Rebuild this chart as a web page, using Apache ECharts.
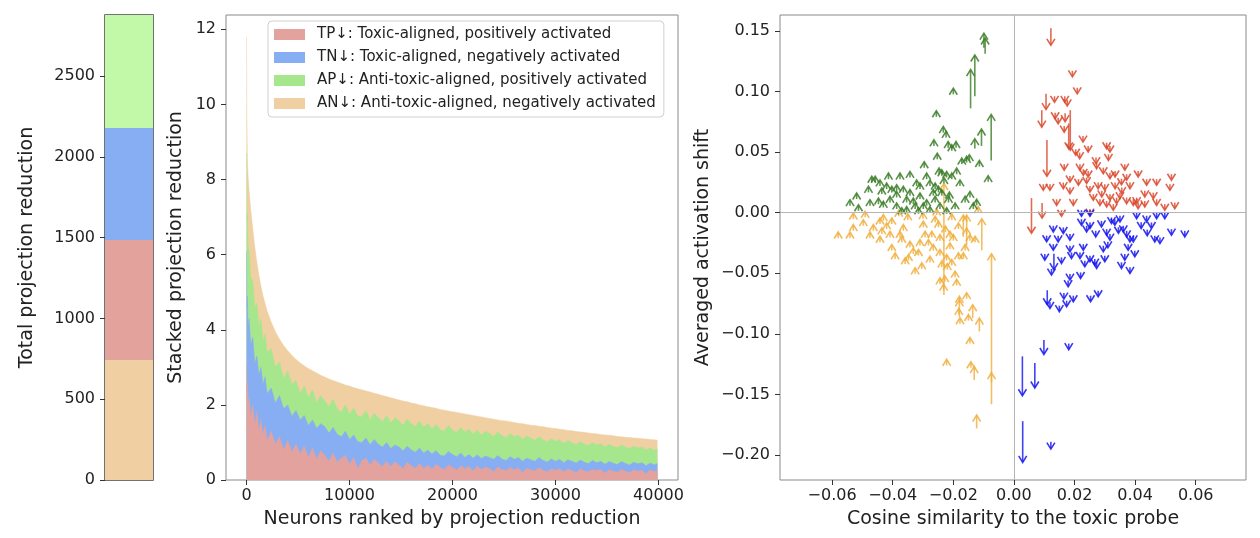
<!DOCTYPE html>
<html>
<head>
<meta charset="utf-8">
<script src="https://cdn.jsdelivr.net/npm/echarts@6.0.0/dist/echarts.min.js"></script>
<style>
html, body { margin: 0; padding: 0; background: #fff; }
#main { width: 1260px; height: 538px; }
</style>
</head>
<body>
<div id="main"></div>
<script>
// ---- left panel: total projection reduction per group ----
var barGroups = ['AN↓', 'TP↓', 'TN↓', 'AP↓'];
var barValues = [743, 743, 693, 700];
var totalTicks = [0, 500, 1000, 1500, 2000, 2500];

// ---- middle panel: stacked projection reduction, cumulative tops ----
var ranks = [0,30,80,150,250,400,600,800,1000,1200,1400,1600,1800,2000,
  2400,2800,3200,3600,4000,4400,4800,5200,5600,6000,
  6400,6800,7200,7600,8000,8400,8800,9200,9600,10000,
  10400,10800,11200,11600,12000,12400,12800,13200,13600,14000,
  14400,14800,15200,15600,16000,16400,16800,17200,17600,18000,
  18400,18800,19200,19600,20000,20400,20800,21200,21600,22000,
  22400,22800,23200,23600,24000,24400,24800,25200,25600,26000,
  26400,26800,27200,27600,28000,28400,28800,29200,29600,30000,
  30400,30800,31200,31600,32000,32400,32800,33200,33600,34000,
  34400,34800,35200,35600,36000,36400,36800,37200,37600,38000,
  38400,38800,39200,39600,39900];
var allTop = [11.8,9.7,8.6,8.1,7.7,7.2,6.7,6.2,5.8,5.45,5.15,4.9,4.7,4.5,
  4.2,3.95,3.75,3.58,3.44,3.32,3.21,3.12,3.04,2.97,
  2.91,2.85,2.79,2.74,2.69,2.65,2.61,2.57,2.53,2.5,
  2.46,2.43,2.4,2.37,2.34,2.31,2.28,2.25,2.22,2.19,
  2.16,2.13,2.1,2.08,2.05,2.03,2.0,1.98,1.95,1.93,
  1.91,1.88,1.86,1.84,1.82,1.8,1.78,1.76,1.74,1.72,
  1.7,1.68,1.66,1.64,1.62,1.6,1.58,1.57,1.55,1.53,
  1.51,1.5,1.48,1.46,1.45,1.43,1.42,1.4,1.38,1.37,
  1.35,1.34,1.32,1.31,1.29,1.28,1.27,1.25,1.24,1.23,
  1.21,1.2,1.19,1.18,1.16,1.15,1.14,1.13,1.12,1.11,
  1.1,1.09,1.08,1.07,1.06];
var apTop = [8.7,6.9,7.1,6.2,6.1,5.4,5.3,4.6,4.7,4.1,4.3,3.7,3.9,3.4,
  3.5,3.0,3.15,2.7,2.9,2.55,2.65,2.3,2.5,2.2,
  2.4,2.05,2.25,2.1,1.95,2.15,1.9,1.8,2.0,1.75,
  1.92,1.7,1.68,1.85,1.6,1.78,1.66,1.55,1.72,1.52,
  1.66,1.58,1.45,1.62,1.5,1.42,1.57,1.4,1.5,1.36,
  1.48,1.34,1.3,1.45,1.33,1.26,1.4,1.28,1.35,1.22,
  1.33,1.2,1.3,1.24,1.16,1.28,1.18,1.12,1.24,1.15,
  1.2,1.08,1.17,1.12,1.05,1.15,1.07,1.02,1.1,1.03,
  1.07,0.97,1.05,1.0,0.94,1.02,0.96,0.92,1.0,0.93,
  0.97,0.88,0.95,0.9,0.86,0.93,0.87,0.84,0.9,0.85,
  0.88,0.8,0.86,0.79,0.83];
var tnTop = [6.1,4.6,4.9,4.1,4.3,3.6,3.8,3.1,3.3,2.8,3.0,2.55,2.75,2.3,
  2.45,2.05,2.25,1.9,2.0,1.7,1.85,1.6,1.72,1.45,
  1.6,1.38,1.5,1.42,1.25,1.4,1.22,1.15,1.3,1.08,
  1.2,1.02,1.0,1.12,0.94,1.08,0.95,0.88,1.0,0.84,
  0.93,0.88,0.78,0.9,0.8,0.74,0.85,0.72,0.8,0.69,
  0.78,0.66,0.64,0.76,0.68,0.62,0.72,0.6,0.68,0.58,
  0.67,0.57,0.64,0.6,0.55,0.65,0.56,0.52,0.62,0.55,
  0.6,0.5,0.58,0.54,0.5,0.6,0.52,0.48,0.56,0.5,
  0.55,0.46,0.54,0.5,0.45,0.53,0.47,0.44,0.52,0.46,
  0.5,0.42,0.49,0.45,0.41,0.49,0.44,0.4,0.47,0.43,
  0.46,0.38,0.45,0.4,0.44];
var tpTop = [3.1,2.3,2.6,2.0,2.2,1.7,2.0,1.5,1.8,1.3,1.6,1.2,1.45,1.05,
  1.3,0.95,1.15,0.8,1.05,0.75,0.95,0.7,0.9,0.6,
  0.85,0.55,0.78,0.65,0.5,0.72,0.48,0.58,0.66,0.42,
  0.6,0.3,0.52,0.58,0.4,0.55,0.45,0.36,0.5,0.35,
  0.48,0.4,0.3,0.47,0.38,0.31,0.44,0.3,0.4,0.28,
  0.42,0.33,0.27,0.4,0.34,0.26,0.38,0.3,0.36,0.24,
  0.37,0.28,0.34,0.3,0.22,0.35,0.28,0.25,0.33,0.27,
  0.32,0.2,0.31,0.27,0.24,0.33,0.26,0.21,0.3,0.26,
  0.3,0.22,0.29,0.25,0.19,0.3,0.24,0.22,0.28,0.25,
  0.28,0.18,0.27,0.24,0.2,0.28,0.23,0.19,0.27,0.23,
  0.26,0.16,0.27,0.22,0.25];
var rankTicks = [0, 10000, 20000, 30000, 40000];
var stackTicks = [0, 2, 4, 6, 8, 10, 12];

// ---- right panel: arrows [cosine, activation shift, arrow length] ----
var apArrows = [
  [-0.0099,0.136,0.012],[-0.0095,0.131,0.013],[-0.0129,0.096,0.034],[-0.0143,0.086,0.032],
  [-0.0075,0.043,0.038],[-0.0107,0.055,0.014],[-0.0129,0.053,0.008],
  [-0.0200,0.0976,0.005],[-0.0256,0.079,0.005],[-0.0233,0.066,0.005],[-0.0224,0.062,0.005],
  [-0.0264,0.055,0.005],[-0.0217,0.0536,0.005],[-0.0191,0.0536,0.005],[-0.0205,0.051,0.005],
  [-0.0253,0.044,0.005],[-0.0296,0.037,0.005],[-0.0172,0.040,0.005],[-0.0156,0.0414,0.005],
  [-0.0147,0.0428,0.005],[-0.0114,0.038,0.005],[-0.0247,0.0317,0.005],[-0.0238,0.0304,0.005],
  [-0.0222,0.029,0.005],[-0.0205,0.0276,0.005],[-0.0189,0.0317,0.005],[-0.0343,0.029,0.005],
  [-0.0376,0.0276,0.005],[-0.0414,0.0276,0.005],[-0.0469,0.025,0.005],[-0.0458,0.025,0.005],
  [-0.0085,0.0255,0.005],[-0.0442,0.022,0.005],[-0.0420,0.0194,0.005],[-0.0403,0.0167,0.005],
  [-0.0387,0.018,0.005],[-0.0365,0.0167,0.005],[-0.0480,0.0167,0.005],[-0.0436,0.0153,0.005],
  [-0.0321,0.022,0.005],[-0.0310,0.0194,0.005],[-0.0288,0.0276,0.005],[-0.0277,0.022,0.005],
  [-0.0260,0.0194,0.005],[-0.0249,0.0167,0.005],[-0.0238,0.014,0.005],[-0.0216,0.0084,0.005],
  [-0.0178,0.022,0.005],[-0.0519,0.0112,0.005],[-0.0541,0.0057,0.005],[-0.0513,0.0015,0.005],
  [-0.0475,0.0057,0.005],[-0.0447,0.007,0.005],[-0.0431,0.0043,0.005],[-0.0409,0.0084,0.005],
  [-0.0387,0.003,0.005],[-0.0370,-0.001,0.005],[-0.0354,0.000,0.005],[-0.0332,0.007,0.005],
  [-0.0326,0.003,0.005],[-0.0315,-0.001,0.005],[-0.0299,0.003,0.005],[-0.0288,0.0057,0.005],
  [-0.0277,0.000,0.005],[-0.0260,0.0084,0.005],[-0.0244,0.003,0.005],[-0.0222,-0.001,0.005],
  [-0.0194,0.003,0.005],[-0.0161,0.0084,0.005],[-0.0145,0.0125,0.005],[-0.0134,0.003,0.005],
  [-0.0123,0.006,0.005],[-0.0343,0.014,0.005],[-0.0387,0.0125,0.005],[-0.0354,0.0084,0.005],
  [-0.0266,0.014,0.005],[-0.0310,0.0112,0.005],[-0.0213,0.012,0.005],[-0.0231,0.024,0.005]
];
var anArrows = [
  [-0.0074,-0.158,0.124],[-0.0074,-0.140,0.008],[-0.0106,-0.031,0.026],[-0.0231,-0.068,0.092],
  [-0.0156,-0.027,0.025],[-0.0167,-0.020,0.018],[-0.0180,-0.086,0.014],[-0.0136,-0.087,0.011],
  [-0.0114,-0.098,0.011],[-0.0131,-0.138,0.011],[-0.0123,-0.178,0.011],
  [-0.0580,-0.021,0.005],[-0.0541,-0.021,0.005],[-0.0530,-0.0149,0.005],[-0.0530,-0.0053,0.005],
  [-0.0497,-0.0108,0.005],[-0.0491,-0.0039,0.005],[-0.0475,-0.021,0.005],[-0.0464,-0.0149,0.005],
  [-0.0442,-0.0094,0.005],[-0.0431,-0.0066,0.005],[-0.0436,-0.0176,0.005],[-0.0442,-0.0245,0.005],
  [-0.0420,-0.0135,0.005],[-0.0409,-0.0204,0.005],[-0.0403,-0.0094,0.005],[-0.0403,-0.0313,0.005],
  [-0.0392,-0.0382,0.005],[-0.0376,-0.0204,0.005],[-0.0370,-0.0245,0.005],[-0.0365,-0.0149,0.005],
  [-0.0348,-0.0395,0.005],[-0.0359,-0.0423,0.005],[-0.0343,-0.0286,0.005],[-0.0332,-0.0341,0.005],
  [-0.0326,-0.0505,0.005],[-0.0315,-0.0354,0.005],[-0.0310,-0.0272,0.005],[-0.0304,-0.0464,0.005],
  [-0.0299,-0.0121,0.005],[-0.0293,-0.0204,0.005],[-0.0282,-0.0272,0.005],[-0.0277,-0.0409,0.005],
  [-0.0271,-0.0204,0.005],[-0.0266,-0.0313,0.005],[-0.0260,-0.008,0.005],[-0.0249,-0.0121,0.005],
  [-0.0244,-0.0231,0.005],[-0.0244,-0.0354,0.005],[-0.0238,-0.045,0.005],[-0.0244,-0.0588,0.005],
  [-0.0222,-0.0395,0.005],[-0.0211,-0.0204,0.005],[-0.0211,-0.030,0.005],[-0.0205,-0.0436,0.005],
  [-0.0200,-0.0231,0.005],[-0.0194,-0.0533,0.005],[-0.0189,-0.060,0.005],[-0.0183,-0.0382,0.005],
  [-0.0183,-0.0135,0.005],[-0.0167,-0.0382,0.005],[-0.0161,-0.0313,0.005],[-0.0156,-0.0176,0.005],
  [-0.0145,-0.0231,0.005],[-0.0128,-0.0245,0.005],[-0.0156,-0.071,0.005],[-0.0178,-0.0917,0.005],
  [-0.0150,-0.089,0.005],[-0.0145,-0.108,0.005],[-0.0222,-0.126,0.005],[-0.0142,-0.128,0.005],
  [-0.0118,0.000,0.005],[-0.0228,-0.057,0.005],[-0.0232,-0.064,0.005],[-0.0220,-0.047,0.005],
  [-0.0180,-0.074,0.005],[-0.0182,-0.084,0.005],[-0.0300,-0.005,0.005],[-0.0255,-0.002,0.005],
  [-0.0350,-0.006,0.005],[-0.0380,-0.003,0.005],[-0.0205,-0.006,0.005],[-0.0226,-0.016,0.005]
];
var tpArrows = [
  [0.0122,0.152,-0.014],[0.0106,0.098,-0.013],[0.0092,0.0845,-0.014],[0.0186,0.0845,-0.033],
  [0.0181,0.0736,-0.021],[0.0169,0.082,-0.007],[0.0109,0.060,-0.030],[0.0058,0.012,-0.029],
  [0.0093,0.008,-0.0125],
  [0.0193,0.117,-0.005],[0.0209,0.103,-0.005],[0.0134,0.096,-0.005],[0.0168,0.096,-0.005],
  [0.0176,0.093,-0.005],[0.0136,0.0824,-0.005],[0.0146,0.0783,-0.005],[0.0166,0.0714,-0.005],
  [0.0228,0.0632,-0.005],[0.0245,0.055,-0.005],[0.0217,0.0495,-0.005],[0.0204,0.0523,-0.005],
  [0.0306,0.0577,-0.005],[0.0317,0.055,-0.005],[0.0312,0.0481,-0.005],[0.0271,0.0454,-0.005],
  [0.0273,0.0413,-0.005],[0.0218,0.040,-0.005],[0.0229,0.0358,-0.005],[0.0245,0.0344,-0.005],
  [0.0166,0.040,-0.005],[0.0295,0.0371,-0.005],[0.0317,0.033,-0.005],[0.0334,0.0344,-0.005],
  [0.0366,0.040,-0.005],[0.0372,0.0317,-0.005],[0.0410,0.0344,-0.005],[0.0185,0.0303,-0.005],
  [0.0213,0.0276,-0.005],[0.0240,0.029,-0.005],[0.0097,0.0234,-0.005],[0.0119,0.0234,-0.005],
  [0.0163,0.0248,-0.005],[0.0185,0.0207,-0.005],[0.0251,0.022,-0.005],[0.0278,0.0248,-0.005],
  [0.0300,0.0234,-0.005],[0.0334,0.0248,-0.005],[0.0356,0.0207,-0.005],[0.0383,0.0248,-0.005],
  [0.0438,0.0276,-0.005],[0.0471,0.0276,-0.005],[0.0520,0.0317,-0.005],[0.0515,0.0234,-0.005],
  [0.0141,0.011,-0.005],[0.0157,0.002,-0.005],[0.0196,0.011,-0.005],[0.0262,0.0152,-0.005],
  [0.0284,0.011,-0.005],[0.0306,0.0097,-0.005],[0.0328,0.007,-0.005],[0.0350,0.0165,-0.005],
  [0.0372,0.0124,-0.005],[0.0394,0.011,-0.005],[0.0410,0.0083,-0.005],[0.0432,0.018,-0.005],
  [0.0460,0.0165,-0.005],[0.0471,0.011,-0.005],[0.0498,0.007,-0.005],[0.0531,0.0083,-0.005],
  [0.0432,0.0097,-0.005],[0.0405,0.0124,-0.005],[0.0251,0.003,-0.005],[0.0317,0.0152,-0.005],
  [0.0339,0.0124,-0.005],[0.0290,0.018,-0.005],[0.0355,0.028,-0.005]
];
var tnArrows = [
  [0.0028,-0.1185,-0.0325],[0.0029,-0.172,-0.034],[0.0069,-0.124,-0.0206],[0.0099,-0.105,-0.012],
  [0.0122,-0.189,-0.006],[0.0110,-0.064,-0.012],[0.0132,-0.034,-0.013],
  [0.0181,-0.108,-0.005],[0.0108,-0.019,-0.005],[0.0130,-0.0109,-0.005],[0.0163,-0.0122,-0.005],
  [0.0185,-0.0177,-0.005],[0.0146,-0.0191,-0.005],[0.0130,-0.026,-0.005],[0.0157,-0.0369,-0.005],
  [0.0185,-0.0273,-0.005],[0.0190,-0.0328,-0.005],[0.0102,-0.0342,-0.005],[0.0124,-0.0465,-0.005],
  [0.0185,-0.0506,-0.005],[0.0179,-0.056,-0.005],[0.0220,-0.0493,-0.005],[0.0119,-0.074,-0.005],
  [0.0150,-0.0767,-0.005],[0.0165,-0.0663,-0.005],[0.0174,-0.0726,-0.005],[0.0196,-0.0685,-0.005],
  [0.0253,-0.0685,-0.005],[0.0278,-0.0644,-0.005],[0.0223,-0.0054,-0.005],[0.0229,-0.026,-0.005],
  [0.0218,-0.0328,-0.005],[0.0240,-0.0109,-0.005],[0.0251,-0.0081,-0.005],[0.0234,-0.0396,-0.005],
  [0.0251,-0.0355,-0.005],[0.0267,-0.0383,-0.005],[0.0273,-0.041,-0.005],[0.0295,-0.0273,-0.005],
  [0.0300,-0.0355,-0.005],[0.0306,-0.0136,-0.005],[0.0317,-0.0177,-0.005],[0.0289,-0.0068,-0.005],
  [0.0322,-0.004,-0.005],[0.0333,-0.0054,-0.005],[0.0350,-0.0026,-0.005],[0.0361,-0.0109,-0.005],
  [0.0372,-0.015,-0.005],[0.0383,-0.0191,-0.005],[0.0394,-0.0191,-0.005],[0.0377,-0.026,-0.005],
  [0.0399,-0.0314,-0.005],[0.0355,-0.041,-0.005],[0.0366,-0.0342,-0.005],[0.0383,-0.0451,-0.005],
  [0.0405,0.000,-0.005],[0.0438,-0.0026,-0.005],[0.0454,-0.0081,-0.005],[0.0465,-0.0191,-0.005],
  [0.0482,-0.0205,-0.005],[0.0498,0.000,-0.005],[0.0520,-0.0136,-0.005],[0.0471,0.000,-0.005],
  [0.0223,0.002,-0.005],[0.0251,0.002,-0.005],[0.0564,-0.015,-0.005],[0.0345,-0.012,-0.005],
  [0.0270,-0.015,-0.005],[0.0310,-0.024,-0.005],[0.0420,-0.008,-0.005],[0.0440,-0.014,-0.005]
];
var cosTicks = [-0.06, -0.04, -0.02, 0, 0.02, 0.04, 0.06];
var shiftTicks = [-0.2, -0.15, -0.1, -0.05, 0, 0.05, 0.1, 0.15];

var FONT = 'DejaVu Sans';
var TXT = '#222';
var labelStyle = { fontFamily: FONT, fontSize: 16, color: TXT };
var nameStyle = { fontFamily: FONT, fontSize: 19, color: TXT };

function minus(v, digits) {
  var s = Math.abs(v).toFixed(digits);
  return (v < -1e-9 ? '\u2212' : '') + s;
}

function plain(v) { return String(v); }

function pairs(ys) {
  return ranks.map(function (r, i) { return [r, ys[i]]; });
}

// quiver-like arrow: shaft from tail to tip plus an open chevron head
function arrowRenderer(color) {
  return function (params, api) {
    var x = api.value(0), y = api.value(1), dy = api.value(2);
    var p0 = api.coord([x, y]);
    var p1 = api.coord([x, y + dy]);
    var s = dy >= 0 ? 1 : -1;
    var L = 6.5, W = 4;
    var tx = p1[0], ty = p1[1];
    return {
      type: 'group',
      children: [
        { type: 'line', shape: { x1: p0[0], y1: p0[1], x2: tx, y2: ty + s * 1 },
          style: { stroke: color, lineWidth: 1.6, opacity: 0.8 } },
        { type: 'polyline', shape: { points: [[tx - W, ty + s * L], [tx, ty], [tx + W, ty + s * L]] },
          style: { stroke: color, lineWidth: 1.6, fill: null, opacity: 0.85, lineJoin: 'miter' } }
      ]
    };
  };
}

var chart = echarts.init(document.getElementById('main'));

var colLeft = ['#f0cfa3', '#e4a29d', '#87aef3', '#c1f9a9'];
var colMid = { TP: '#e3a29d', TN: '#87aef3', AP: '#a6e68d', AN: '#f0cfa3' };
var legendNames = [
  'TP\u2193: Toxic-aligned, positively activated',
  'TN\u2193: Toxic-aligned, negatively activated',
  'AP\u2193: Anti-toxic-aligned, positively activated',
  'AN\u2193: Anti-toxic-aligned, negatively activated'
];

function areaSeries(name, color, ys) {
  return {
    name: name, type: 'line', xAxisIndex: 1, yAxisIndex: 1,
    data: pairs(ys), showSymbol: false, silent: true,
    itemStyle: { color: color },
    lineStyle: { width: 0.5, color: color },
    areaStyle: { color: color, opacity: 1 }
  };
}

function valueAxisBase() {
  return {
    type: 'value',
    axisLine: { show: false, onZero: false },
    splitLine: { show: false }
  };
}

var option = {
  animation: false,
  backgroundColor: '#fff',
  grid: [
    { left: 105, top: 15, width: 48, height: 465, show: true, borderColor: '#444', borderWidth: 1.5, backgroundColor: 'transparent' },
    { left: 226, top: 15, width: 452, height: 465, show: true, borderColor: '#8a8a8a', borderWidth: 1, backgroundColor: 'transparent' },
    { left: 780, top: 15, width: 466, height: 465, show: true, borderColor: '#8a8a8a', borderWidth: 1, backgroundColor: 'transparent' }
  ],
  legend: {
    data: legendNames, orient: 'vertical', left: 268, top: 21,
    icon: 'rect', itemWidth: 31, itemHeight: 11, itemGap: 6,
    padding: [5, 8, 5, 6],
    backgroundColor: 'rgba(255,255,255,0.8)', borderColor: '#d0d0d0', borderWidth: 1, borderRadius: 4,
    selectedMode: false,
    textStyle: { fontFamily: FONT, fontSize: 15, color: TXT, lineHeight: 17, padding: [0, 0, 0, 7] }
  },
  xAxis: [
    { gridIndex: 0, type: 'category', data: ['total'], axisLine: { show: false, onZero: false }, axisTick: { show: false }, axisLabel: { show: false } },
    Object.assign(valueAxisBase(), { gridIndex: 1, min: -1995, max: 41895,
      name: 'Neurons ranked by projection reduction', nameLocation: 'middle', nameGap: 30, nameTextStyle: nameStyle,
      axisTick: { show: true, length: 5, lineStyle: { color: '#333' }, customValues: rankTicks },
      axisLabel: Object.assign({ margin: 8, customValues: rankTicks, formatter: plain }, labelStyle) }),
    Object.assign(valueAxisBase(), { gridIndex: 2, min: -0.0772, max: 0.0766,
      name: 'Cosine similarity to the toxic probe', nameLocation: 'middle', nameGap: 30, nameTextStyle: nameStyle,
      axisTick: { show: true, length: 5, lineStyle: { color: '#333' }, customValues: cosTicks },
      axisLabel: Object.assign({ margin: 8, customValues: cosTicks, formatter: function (v) { return minus(v, 2); } }, labelStyle) })
  ],
  yAxis: [
    Object.assign(valueAxisBase(), { gridIndex: 0, min: 0, max: 2879,
      name: 'Total projection reduction', nameLocation: 'middle', nameGap: 68, nameRotate: 90, nameTextStyle: nameStyle,
      axisTick: { show: true, length: 5, lineStyle: { color: '#333' }, customValues: totalTicks },
      axisLabel: Object.assign({ margin: 10, customValues: totalTicks, formatter: plain }, labelStyle) }),
    Object.assign(valueAxisBase(), { gridIndex: 1, min: 0, max: 12.38,
      name: 'Stacked projection reduction', nameLocation: 'middle', nameGap: 40, nameRotate: 90, nameTextStyle: nameStyle,
      axisTick: { show: true, length: 5, lineStyle: { color: '#333' }, customValues: stackTicks },
      axisLabel: Object.assign({ margin: 10, customValues: stackTicks, formatter: plain }, labelStyle) }),
    Object.assign(valueAxisBase(), { gridIndex: 2, min: -0.2205, max: 0.163,
      name: 'Averaged activation shift', nameLocation: 'middle', nameGap: 67, nameRotate: 90, nameTextStyle: nameStyle,
      axisTick: { show: true, length: 5, lineStyle: { color: '#333' }, customValues: shiftTicks },
      axisLabel: Object.assign({ margin: 10, customValues: shiftTicks, formatter: function (v) { return minus(v, 2); } }, labelStyle) })
  ],
  series: [
    // left stacked bar
    { type: 'bar', name: barGroups[0], xAxisIndex: 0, yAxisIndex: 0, stack: 'tot', barWidth: '100%', data: [barValues[0]], itemStyle: { color: colLeft[0] }, silent: true },
    { type: 'bar', name: barGroups[1], xAxisIndex: 0, yAxisIndex: 0, stack: 'tot', barWidth: '100%', data: [barValues[1]], itemStyle: { color: colLeft[1] }, silent: true },
    { type: 'bar', name: barGroups[2], xAxisIndex: 0, yAxisIndex: 0, stack: 'tot', barWidth: '100%', data: [barValues[2]], itemStyle: { color: colLeft[2] }, silent: true },
    { type: 'bar', name: barGroups[3], xAxisIndex: 0, yAxisIndex: 0, stack: 'tot', barWidth: '100%', data: [barValues[3]], itemStyle: { color: colLeft[3] }, silent: true },
    // middle: cumulative tops drawn back to front
    areaSeries(legendNames[3], colMid.AN, allTop),
    areaSeries(legendNames[2], colMid.AP, apTop),
    areaSeries(legendNames[1], colMid.TN, tnTop),
    areaSeries(legendNames[0], colMid.TP, tpTop),
    // right: reference lines at zero
    { type: 'scatter', xAxisIndex: 2, yAxisIndex: 2, data: [], z: 1, silent: true,
      markLine: { silent: true, symbol: 'none', label: { show: false },
        lineStyle: { color: '#b5b5b5', width: 1, type: 'solid' },
        data: [{ xAxis: 0 }, { yAxis: 0 }] } },
    { type: 'custom', xAxisIndex: 2, yAxisIndex: 2, data: anArrows, renderItem: arrowRenderer('#f0ae3c'), z: 3, silent: true, clip: true },
    { type: 'custom', xAxisIndex: 2, yAxisIndex: 2, data: apArrows, renderItem: arrowRenderer('#3a7d26'), z: 3, silent: true, clip: true },
    { type: 'custom', xAxisIndex: 2, yAxisIndex: 2, data: tpArrows, renderItem: arrowRenderer('#d9472b'), z: 3, silent: true, clip: true },
    { type: 'custom', xAxisIndex: 2, yAxisIndex: 2, data: tnArrows, renderItem: arrowRenderer('#1414f0'), z: 3, silent: true, clip: true }
  ]
};

chart.setOption(option);
</script>
</body>
</html>
